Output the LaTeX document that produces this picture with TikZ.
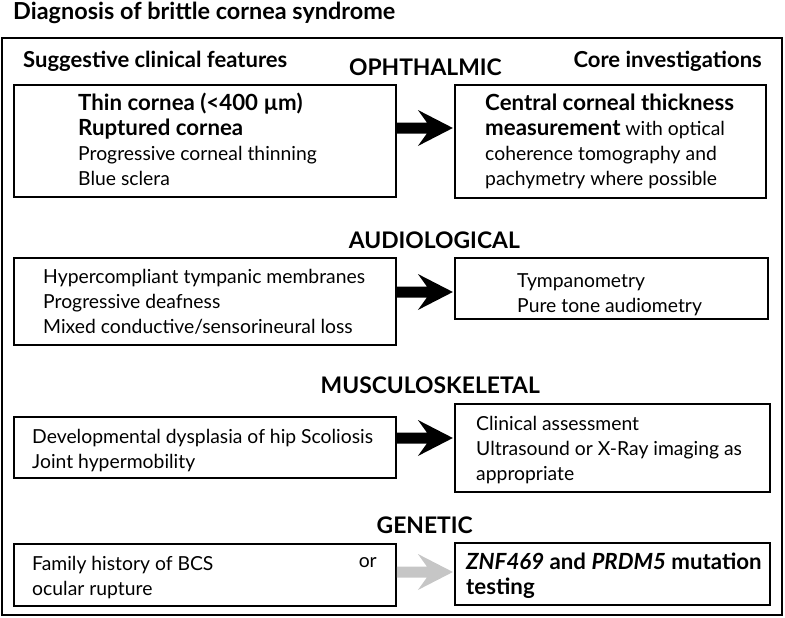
\documentclass[tikz,border=0pt]{standalone}
\usepackage{fontspec}
\setmainfont{Lato}
\usetikzlibrary{calc}
\newcommand{\bd}[1]{{\bfseries\fontsize{19}{21.3}\selectfont #1}}
\begin{document}
\begin{tikzpicture}[x=0.03cm,y=-0.03cm,
  box/.style={draw,line width=1.5pt,inner sep=0pt},
  txt/.style={anchor=base west,align=left,inner sep=0pt,font=\fontsize{16.5}{21.3}\selectfont},
  head/.style={anchor=base east,font=\bfseries\fontsize{19.5}{21}\selectfont,inner sep=0pt},
  sub/.style={font=\bfseries\fontsize{18.8}{21}\selectfont,inner sep=0pt}]
\useasboundingbox (0,0) rectangle (785,618);
\tikzset{pics/bigarrow/.style={code={
  \fill[#1] (0,-5.5) -- (30,-5.5) -- (21,-18) -- (56,0) -- (21,18) -- (30,5.5) -- (0,5.5) -- cycle;}}}
\node[anchor=base west,inner sep=0pt,font=\bfseries\fontsize{20}{22}\selectfont] (title) at (13,20) {Diagnosis of brittle cornea syndrome};
\draw[line width=1.5pt] (2,38) rectangle (782,615);
\node[sub,anchor=base west] (sug) at (23,67) {Suggestive clinical features};
\node[sub,anchor=base east] (core) at (762,67) {Core investigations};
% ophthalmic
\node[head] (oph) at (502,75) {OPHTHALMIC};
\node[box,minimum width=11.46cm,minimum height=3.36cm] (b1l) at (205,141) {};
\node[box,minimum width=9.33cm,minimum height=3.39cm] (b1r) at (610.5,141.5) {};
\node[txt] (t1) at (78,185) {\bd{Thin cornea (<400 µm)}\\\bd{Ruptured cornea}\\Progressive corneal thinning\\Blue sclera};
\node[txt] (t2) at (485,185) {\bd{Central corneal thickness}\\\bd{measurement} with optical\\coherence tomography and\\pachymetry where possible};
\path (b1l.east |- 0,128) pic {bigarrow=black};
% audiological
\node[head] (aud) at (520,248) {AUDIOLOGICAL};
\node[box,minimum width=11.46cm,minimum height=2.61cm] (b2l) at (205,301.5) {};
\node[box,minimum width=9.39cm,minimum height=1.83cm] (b2r) at (611.5,288.5) {};
\node[txt] (t3) at (43,333) {Hypercompliant tympanic membranes\\Progressive deafness\\Mixed conductive/sensorineural loss};
\node[txt] (t4) at (517,312) {Tympanometry\\Pure tone audiometry};
\path (b2l.east |- 0,292) pic {bigarrow=black};
% musculoskeletal
\node[head] (mus) at (540,393) {MUSCULOSKELETAL};
\node[box,minimum width=11.46cm,minimum height=1.83cm] (b3l) at (205,447.5) {};
\node[box,minimum width=9.45cm,minimum height=2.64cm] (b3r) at (612.5,448) {};
\node[txt] (t5) at (32,468) {Developmental dysplasia of hip Scoliosis\\Joint hypermobility};
\node[txt] (t6) at (476,480) {Clinical assessment\\Ultrasound or X-Ray imaging as\\appropriate};
\path (b3l.east |- 0,438) pic {bigarrow=black};
% genetic
\node[head] (gen) at (473,533) {GENETIC};
\node[box,minimum width=11.46cm,minimum height=1.86cm] (b4l) at (205,575) {};
\node[box,minimum width=9.45cm,minimum height=1.86cm] (b4r) at (612.5,574) {};
\node[txt] (t7) at (32,595) {Family history of BCS\\ocular rupture};
\node[txt,anchor=base east] (or) at (377,567) {or};
\node[txt] (t8) at (466,594) {\bd{\textit{ZNF469} and \textit{PRDM5} mutation}\\\bd{testing}};
\path (b4l.east |- 0,572) pic {bigarrow={gray!45}};
\end{tikzpicture}
\end{document}
